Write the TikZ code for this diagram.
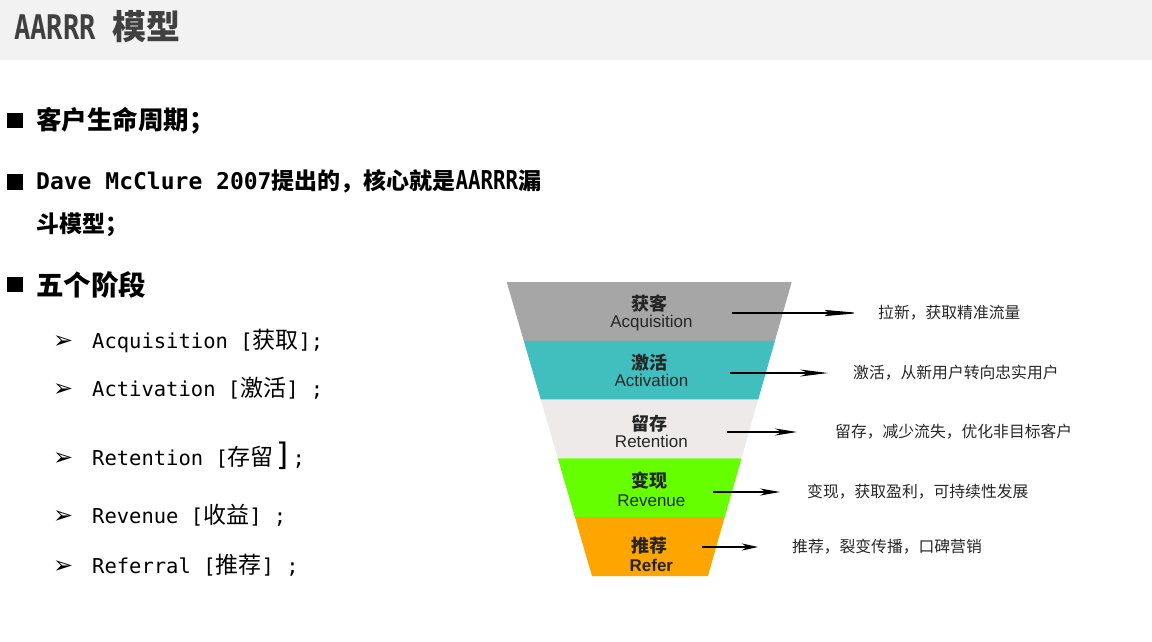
\documentclass[tikz,border=0pt]{standalone}
\usepackage{fontspec}
\setmainfont{Noto Sans CJK SC}
\newfontfamily\mono{DejaVu Sans Mono}
\newfontfamily\cond[FakeStretch=0.8]{DejaVu Sans Mono}
\newfontfamily\arial{Liberation Sans}
\newfontfamily\sym{DejaVu Sans}
\usetikzlibrary{arrows.meta}
\definecolor{headgray}{HTML}{F2F2F2}
\definecolor{titlegray}{HTML}{404040}
\definecolor{acqgray}{HTML}{A6A6A6}
\definecolor{actteal}{HTML}{41BFBF}
\definecolor{retlight}{HTML}{EEEAEA}
\definecolor{revgreen}{HTML}{66FF00}
\definecolor{reforange}{HTML}{FFA500}
\newcommand{\fsz}[1]{\fontsize{#1}{#1}\selectfont}
\newcommand{\zh}[1]{{\rmfamily\fsz{23}#1}}

\begin{document}
\begin{tikzpicture}[x=1pt,y=-1pt,
  every node/.style={inner sep=0pt, anchor=base west},
  heading/.style={font=\fsz{23}\bfseries},
  square/.style={anchor=center, fill=black, minimum size=15.5pt},
  item/.style={font=\mono\fsz{20.5}},
  band/.style={anchor=center, align=center, font=\fsz{18}\bfseries, text=black!85},
  note/.style={anchor=west, font=\fsz{15.8}, text=black!85},
  flow/.style={line width=1.1pt, -{Stealth[length=#1, width=7pt, inset=0.3*#1]}}]
  \useasboundingbox (0,0) rectangle (1152,641);
  % header band
  \fill[headgray] (0,0) rectangle (1152,60);
  \node (title) [font=\fsz{34}\bfseries, text=titlegray] at (14,39.5) {{\cond\fsz{34}AARRR }模型};
  % left column
  \node (sq1) [square] at (15,120.5) {};
  \node (h1) [heading, font=\fsz{25.5}\bfseries] at (36,129.5) {客户生命周期；};
  \node (sq2) [square] at (15,182) {};
  \node (h2) [heading] at (36,189) {{\mono\fsz{23}Dave McClure 2007}提出的，核心就是{\cond\fsz{26}AARRR}漏};
  \node (h2b) [heading] at (36,232) {斗模型；};
  \node (sq3) [square] at (15,284.5) {};
  \node (h3) [heading, font=\fsz{27.5}\bfseries] at (36,295) {五个阶段};
  \foreach \y/\t [count=\i] in {348/{Acquisition [\zh{获取}];},
      396/{Activation [\zh{激活}] ;},
      465/{Retention [\zh{存留}{\fsz{31}]};},
      523/{Revenue [\zh{收益}] ;},
      573/{Referral [\zh{推荐}] ;}} {
    \node (k\i) [font=\sym\fsz{24}] at (53,\y) {➢};
    \node (i\i) [item] at (92,\y) {\t};
  }
  % funnel
  \foreach \c [count=\i] in {acqgray,actteal,retlight,revgreen,reforange} {
    \pgfmathsetmacro\ya{282+(\i-1)*58.8}
    \pgfmathsetmacro\yb{282+\i*58.8}
    \fill[\c] (506.7+0.29*\ya-81.78,\ya) -- (791.7-0.285*\ya+80.37,\ya)
      -- (791.7-0.285*\yb+80.37,\yb) -- (506.7+0.29*\yb-81.78,\yb) -- cycle;
  }
  \node (b1) [band] at (649,313) {获客\\[-1pt]{\arial\mdseries\fsz{17} Acquisition}};
  \node (b2) [band] at (649,370) {激活\\[-1pt]{\arial\mdseries\fsz{17} Activation}};
  \node (b3) [band] at (649,431) {留存\\[-1pt]{\arial\mdseries\fsz{17} Retention}};
  \node (b4) [band] at (649,489) {变现\\[1pt]{\arial\mdseries\fsz{17} Revenue}};
  \node (b5) [band] at (649,554) {推荐\\[1pt]{\arial\fsz{17} Refer}};
  % stage notes
  \foreach \y/\xs/\xt/\gap/\tip/\t [count=\i] in
     {313/732/878/18/40/拉新，获取精准流量,
      373/730/853/25/28/激活，从新用户转向忠实用户,
      432/727/835/38/22/留存，减少流失，优化非目标客户,
      492/713/807/27/20/变现，获取盈利，可持续性发展,
      547/702/792/34/16/推荐，裂变传播，口碑营销} {
    \coordinate (s\i) at (\xs,\y);
    \node (d\i) [note] at (\xt,\y) {\t};
    \draw[flow=\tip pt, shorten >=\gap pt] (s\i) -- (d\i.west);
  }
\end{tikzpicture}
\end{document}
